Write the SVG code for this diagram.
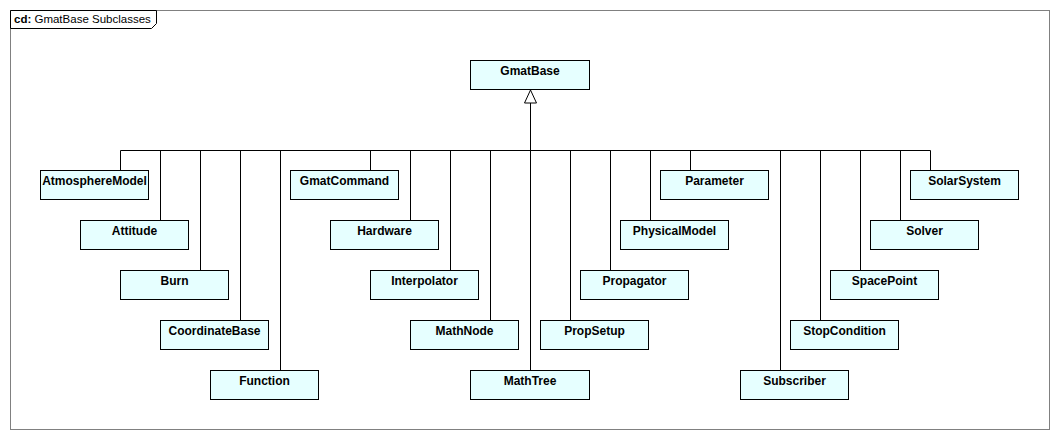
<svg xmlns="http://www.w3.org/2000/svg" width="1060" height="440" viewBox="0 0 1060 440">
<style>
.box{fill:#e6ffff;stroke:#000;stroke-width:1}
.lbl{font-family:"Liberation Sans",Arial,sans-serif;font-size:12px;font-weight:bold;text-anchor:middle;fill:#000}
.ln{stroke:#000;stroke-width:1;fill:none}
</style>
<rect x="0" y="0" width="1060" height="440" fill="#fff"/>
<g id="frame">
<rect x="10.5" y="10.5" width="1039" height="419" fill="none" stroke="#808080"/>
<path d="M10.5,10.5 H156.5 V23.5 L151.5,28.5 H10.5 Z" fill="#fff" stroke="#000"/>
<text x="14" y="23" font-family="'Liberation Sans',Arial,sans-serif" font-size="11.5px"><tspan font-weight="bold">cd:</tspan> GmatBase Subclasses</text>
</g>
<g id="connectors">
<path class="ln" d="M530.5,103 V150.5 M120.5,150.5 H930.5"/>
<path class="ln" d="M120.5,150.5 V170 M160.5,150.5 V220 M200.5,150.5 V270 M240.5,150.5 V320 M280.5,150.5 V370 M370.5,150.5 V170 M410.5,150.5 V220 M450.5,150.5 V270 M490.5,150.5 V320 M530.5,150.5 V370 M570.5,150.5 V320 M610.5,150.5 V270 M650.5,150.5 V220 M690.5,150.5 V170 M780.5,150.5 V370 M820.5,150.5 V320 M860.5,150.5 V270 M900.5,150.5 V220 M930.5,150.5 V170"/>
<path d="M530.5,90 L524.5,103 H536.5 Z" fill="#fff" stroke="#000"/>
</g>
<g id="GmatBase"><rect class="box" x="470.5" y="60.5" width="119" height="29"/><text class="lbl" x="530" y="75">GmatBase</text></g>
<g id="AtmosphereModel"><rect class="box" x="40.5" y="170.5" width="108" height="29"/><text class="lbl" x="94.5" y="185">AtmosphereModel</text></g>
<g id="GmatCommand"><rect class="box" x="290.5" y="170.5" width="108" height="29"/><text class="lbl" x="344.5" y="185">GmatCommand</text></g>
<g id="Parameter"><rect class="box" x="660.5" y="170.5" width="108" height="29"/><text class="lbl" x="714.5" y="185">Parameter</text></g>
<g id="SolarSystem"><rect class="box" x="910.5" y="170.5" width="108" height="29"/><text class="lbl" x="964.5" y="185">SolarSystem</text></g>
<g id="Attitude"><rect class="box" x="80.5" y="220.5" width="108" height="29"/><text class="lbl" x="134.5" y="235">Attitude</text></g>
<g id="Hardware"><rect class="box" x="330.5" y="220.5" width="108" height="29"/><text class="lbl" x="384.5" y="235">Hardware</text></g>
<g id="PhysicalModel"><rect class="box" x="620.5" y="220.5" width="108" height="29"/><text class="lbl" x="674.5" y="235">PhysicalModel</text></g>
<g id="Solver"><rect class="box" x="870.5" y="220.5" width="108" height="29"/><text class="lbl" x="924.5" y="235">Solver</text></g>
<g id="Burn"><rect class="box" x="120.5" y="270.5" width="108" height="29"/><text class="lbl" x="174.5" y="285">Burn</text></g>
<g id="Interpolator"><rect class="box" x="370.5" y="270.5" width="108" height="29"/><text class="lbl" x="424.5" y="285">Interpolator</text></g>
<g id="Propagator"><rect class="box" x="580.5" y="270.5" width="108" height="29"/><text class="lbl" x="634.5" y="285">Propagator</text></g>
<g id="SpacePoint"><rect class="box" x="830.5" y="270.5" width="108" height="29"/><text class="lbl" x="884.5" y="285">SpacePoint</text></g>
<g id="CoordinateBase"><rect class="box" x="160.5" y="320.5" width="108" height="29"/><text class="lbl" x="214.5" y="335">CoordinateBase</text></g>
<g id="MathNode"><rect class="box" x="410.5" y="320.5" width="108" height="29"/><text class="lbl" x="464.5" y="335">MathNode</text></g>
<g id="PropSetup"><rect class="box" x="540.5" y="320.5" width="108" height="29"/><text class="lbl" x="594.5" y="335">PropSetup</text></g>
<g id="StopCondition"><rect class="box" x="790.5" y="320.5" width="108" height="29"/><text class="lbl" x="844.5" y="335">StopCondition</text></g>
<g id="Function"><rect class="box" x="210.5" y="370.5" width="108" height="29"/><text class="lbl" x="264.5" y="385">Function</text></g>
<g id="MathTree"><rect class="box" x="470.5" y="370.5" width="119" height="29"/><text class="lbl" x="530" y="385">MathTree</text></g>
<g id="Subscriber"><rect class="box" x="740.5" y="370.5" width="108" height="29"/><text class="lbl" x="794.5" y="385">Subscriber</text></g>
</svg>
